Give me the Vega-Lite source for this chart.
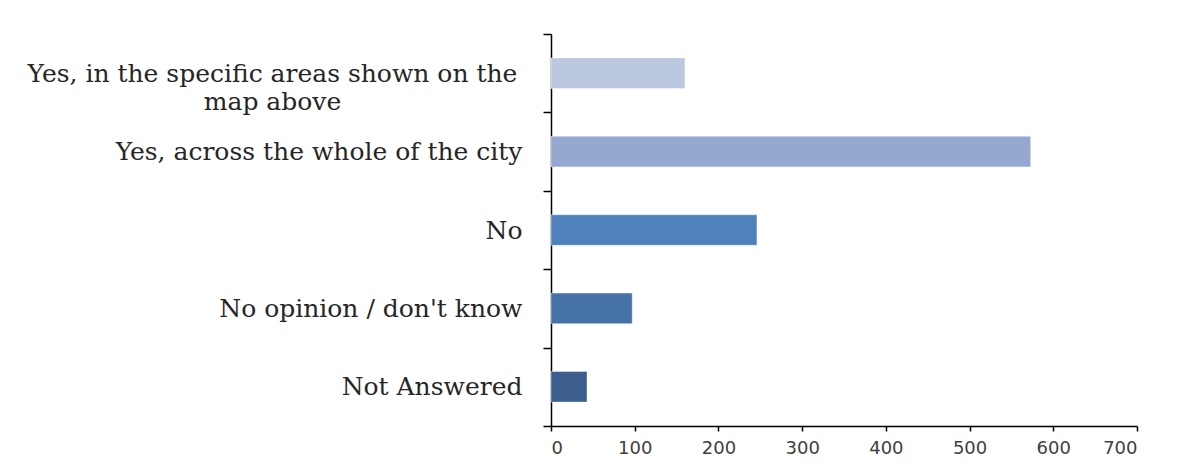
{
  "$schema": "https://vega.github.io/schema/vega-lite/v6.json",
  "autosize": {"type": "none"},
  "width": 586,
  "height": 392,
  "padding": {"left": 551, "top": 34, "right": 41, "bottom": 41},
  "background": "white",
  "config": {"view": {"stroke": null}},
  "data": {
    "values": [
      {"answer": "Yes, in the specific areas shown on the map above", "count": 160, "order": 1},
      {"answer": "Yes, across the whole of the city", "count": 573, "order": 2},
      {"answer": "No", "count": 246, "order": 3},
      {"answer": "No opinion / don't know", "count": 97, "order": 4},
      {"answer": "Not Answered", "count": 43, "order": 5}
    ]
  },
  "mark": {"type": "bar", "height": {"band": 0.39}, "stroke": "white", "strokeOpacity": 0.4, "strokeWidth": 1},
  "encoding": {
    "y": {
      "field": "answer",
      "type": "nominal",
      "sort": {"field": "order", "order": "ascending"},
      "scale": {"paddingInner": 0, "paddingOuter": 0},
      "axis": {
        "title": null,
        "domainColor": "#000000",
        "domainWidth": 1.5,
        "tickColor": "#000000",
        "tickWidth": 1.5,
        "tickSize": 8,
        "tickBand": "extent",
        "labelPadding": {"condition": {"test": "datum.value == 'Yes, in the specific areas shown on the map above'", "value": 271}, "value": 21},
        "labelAlign": {"condition": {"test": "datum.value == 'Yes, in the specific areas shown on the map above'", "value": "center"}, "value": "right"},
        "labelFont": "DejaVu Serif",
        "labelFontSize": 25,
        "labelColor": "#262626",
        "labelLimit": 700,
        "labelLineHeight": 28,
        "labelExpr": "datum.value == 'Yes, in the specific areas shown on the map above' ? ['Yes, in the specific areas shown on the', 'map above'] : datum.label"
      }
    },
    "x": {
      "field": "count",
      "type": "quantitative",
      "scale": {"domain": [0, 700], "nice": false},
      "axis": {
        "title": null,
        "values": [0, 100, 200, 300, 400, 500, 600, 700],
        "grid": false,
        "domainColor": "#000000",
        "domainWidth": 1.5,
        "tickColor": "#000000",
        "tickWidth": 1.5,
        "tickSize": 5,
        "labelFont": "DejaVu Sans",
        "labelFontSize": 18,
        "labelColor": "#404040",
        "labelPadding": 8
      }
    },
    "color": {
      "field": "answer",
      "type": "nominal",
      "legend": null,
      "scale": {
        "domain": ["Yes, in the specific areas shown on the map above", "Yes, across the whole of the city", "No", "No opinion / don't know", "Not Answered"],
        "range": ["#BBC8E0", "#95A9D0", "#4F81BD", "#4672A8", "#3B5E8F"]
      }
    }
  }
}
